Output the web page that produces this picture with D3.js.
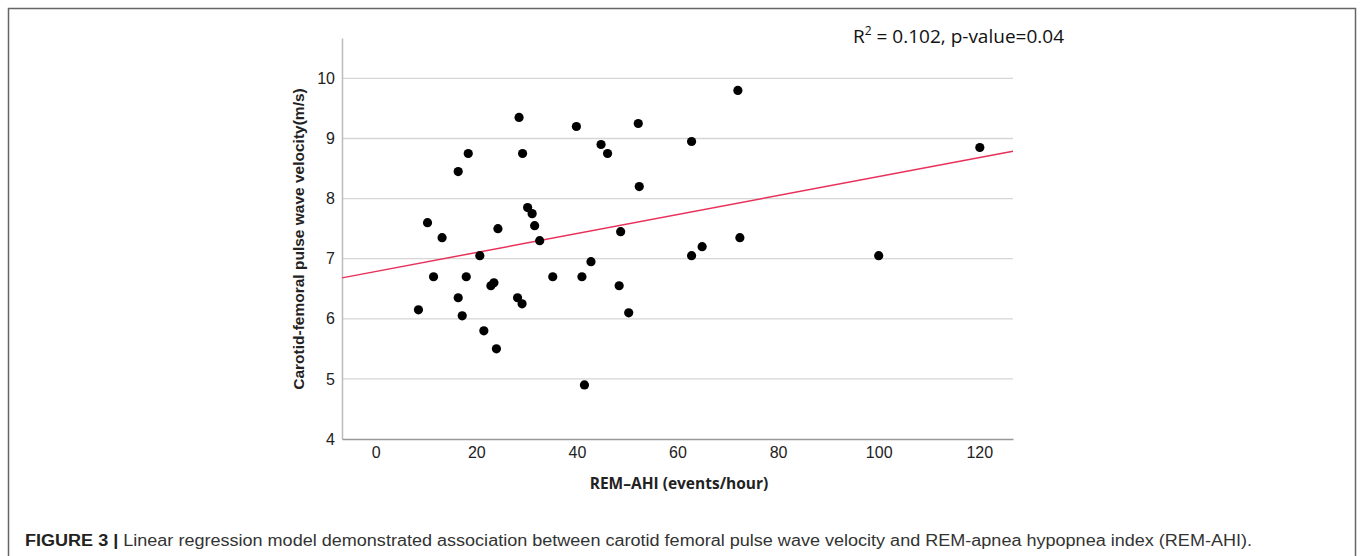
<!DOCTYPE html>
<html>
<head>
<meta charset="utf-8">
<script src="https://cdn.jsdelivr.net/npm/d3@7"></script>
<style>
    body { margin: 0; background: #fff; }
    svg { display: block; }
</style>
</head>
<body>
<div id="chart"><svg width="1360" height="556"></svg></div>
<script>
// data
var rem_ahi = [8.5, 10.3, 11.5, 13.2, 16.4, 16.4, 17.2, 18.0, 18.4, 20.7,
    21.5, 22.9, 23.5, 24.0, 24.3, 28.5, 28.2, 29.1, 29.2, 30.2,
    31.1, 31.6, 32.6, 35.2, 39.9, 41.0, 41.5, 42.8, 44.8, 46.1,
    48.7, 48.4, 50.3, 52.2, 52.4, 62.8, 62.8, 64.9, 72.0, 72.4,
    100.0, 120.1];
var pwv = [6.15, 7.6, 6.7, 7.35, 6.35, 8.45, 6.05, 6.7, 8.75, 7.05,
    5.8, 6.55, 6.6, 5.5, 7.5, 9.35, 6.35, 6.25, 8.75, 7.85,
    7.75, 7.55, 7.3, 6.7, 9.2, 6.7, 4.9, 6.95, 8.9, 8.75,
    7.45, 6.55, 6.1, 9.25, 8.2, 8.95, 7.05, 7.2, 9.8, 7.35,
    7.05, 8.85];
var x_ticks = [0, 20, 40, 60, 80, 100, 120];
var y_ticks = [4, 5, 6, 7, 8, 9, 10];
// fitted line as drawn (intercept, slope)
var fit = [6.787, 0.0158];

(function() {
    var svg = d3.select('div#chart svg'),
    left = 342,
    right = 1013,
    top = 38,
    bottom = 439,
    x,
    y,
    plot,
    note,
    cap;

    x = d3.scaleLinear().domain([-6.7, 126.7]).range([left, right]);
    y = d3.scaleLinear().domain([4, 4 + (bottom - top) / 60.1]).range([bottom, top]);

    // outer frame of the figure panel
    svg.append('rect')
	.attr('x', 8.5)
	.attr('y', 8.5)
	.attr('width', 1347)
	.attr('height', 600)
	.attr('fill', 'none')
	.attr('stroke', '#666')
	.attr('stroke-width', 1.5);

    plot = svg.append('g').classed('plot', true);

    // horizontal gridlines
    plot.selectAll('line.grid')
	.data(y_ticks.filter(function(d) { return d > 4; }))
	.enter().append('line')
	.classed('grid', true)
	.attr('x1', left)
	.attr('x2', right)
	.attr('y1', function(d) { return y(d); })
	.attr('y2', function(d) { return y(d); })
	.attr('stroke', '#d6d6d6')
	.attr('stroke-width', 1.3);

    // y axis
    plot.append('g')
	.attr('transform', 'translate(' + left + ',0)')
	.call(d3.axisLeft(y).tickValues(y_ticks).tickSize(0).tickPadding(7).tickFormat(d3.format('d')))
	.call(function(g) {
	    g.select('.domain').attr('stroke', '#bbb').attr('stroke-width', 1.5);
	    g.selectAll('text')
		.attr('font-family', 'Liberation Sans, Arial, sans-serif')
		.attr('font-size', 16)
		.attr('fill', '#222');
	});

    // x axis
    plot.append('g')
	.attr('transform', 'translate(0,' + bottom + ')')
	.call(d3.axisBottom(x).tickValues(x_ticks).tickSize(0).tickPadding(8).tickFormat(d3.format('d')))
	.call(function(g) {
	    g.select('.domain').attr('stroke', '#999').attr('stroke-width', 1.6);
	    g.selectAll('text')
		.attr('font-family', 'Liberation Sans, Arial, sans-serif')
		.attr('font-size', 16)
		.attr('fill', '#222');
	});

    // regression line
    plot.append('line')
	.attr('x1', x(x.domain()[0]))
	.attr('x2', x(x.domain()[1]))
	.attr('y1', y(fit[0] + fit[1] * x.domain()[0]))
	.attr('y2', y(fit[0] + fit[1] * x.domain()[1]))
	.attr('stroke', '#e8305a')
	.attr('stroke-width', 1.5);

    // points
    plot.selectAll('circle.pt')
	.data(d3.range(rem_ahi.length))
	.enter().append('circle')
	.classed('pt', true)
	.attr('cx', function(i) { return x(rem_ahi[i]); })
	.attr('cy', function(i) { return y(pwv[i]); })
	.attr('r', 4.6)
	.attr('fill', '#000');

    // axis titles
    svg.append('text')
	.attr('transform', 'translate(304,239) rotate(-90)')
	.attr('text-anchor', 'middle')
	.attr('font-family', 'Liberation Sans, Arial, sans-serif')
	.attr('font-weight', 'bold')
	.attr('font-size', 15.5)
	.attr('fill', '#222')
	.text('Carotid-femoral pulse wave velocity(m/s)');

    svg.append('text')
	.attr('x', 679)
	.attr('y', 489)
	.attr('text-anchor', 'middle')
	.attr('font-family', 'Open Sans, sans-serif')
	.attr('font-weight', 'bold')
	.attr('font-size', 15.5)
	.attr('fill', '#222')
	.text('REM\u2013AHI (events/hour)');

    // R squared note
    note = svg.append('text')
	.attr('x', 853)
	.attr('y', 43)
	.attr('font-family', 'Open Sans, sans-serif')
	.attr('font-size', 19)
	.attr('fill', '#111');
    note.append('tspan').text('R');
    note.append('tspan').attr('dy', -8).attr('font-size', 12).text('2');
    note.append('tspan').attr('dy', 8).text(' = 0.102, p-value=0.04');

    // caption
    cap = svg.append('text')
	.attr('x', 25)
	.attr('y', 546)
	.attr('font-family', 'Liberation Sans, Arial, sans-serif')
	.attr('font-size', 16)
	.attr('fill', '#333')
	.attr('textLength', 1227)
	.attr('lengthAdjust', 'spacingAndGlyphs');
    cap.append('tspan').attr('font-weight', 'bold').attr('fill', '#222').text('FIGURE 3 | ');
    cap.append('tspan').text('Linear regression model demonstrated association between carotid femoral pulse wave velocity and REM-apnea hypopnea index (REM-AHI).');
}).call(this);
</script>
</body>
</html>
